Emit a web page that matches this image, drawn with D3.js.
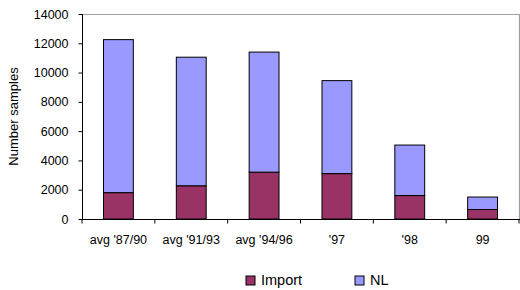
<!DOCTYPE html>
<title>Number samples</title>
<body>
<script src="https://cdn.jsdelivr.net/npm/d3@7"></script>
<style>
  html, body { margin: 0; background: #fff; }
  text { font-family: "Liberation Sans", Arial, sans-serif; }
</style>
<script>
  // values
  var categories = ["avg '87/90", "avg '91/93", "avg '94/96", "'97", "'98", "99"],
    importVals = [1800, 2270, 3200, 3100, 1600, 650],
    nlVals = [10450, 8780, 8200, 6350, 3450, 850],
    yTicks = [0, 2000, 4000, 6000, 8000, 10000, 12000, 14000],
    seriesNames = ["Import", "NL"],
    colors = ["#993366", "#9999ff"];

  // note: "top" is a reserved window prop, so use plot* names
  var width = 520, height = 290,
    plotL = 82, plotR = 519, plotT = 14, plotB = 219;

  var svg = d3.select("body").append("svg")
    .attr("width", width)
    .attr("height", height);

  var x = d3.scaleBand().domain(categories).range([plotL, plotR]).paddingInner(0.59).paddingOuter(0.295);
  var y = d3.scaleLinear().domain([0, 14000]).range([plotB, plotT]);

  // plot frame top + right (gray)
  svg.append("path")
    .attr("d", "M" + plotL + "," + (plotT + 0.5) + "H" + (plotR + 0.5) + "V" + plotB)
    .attr("fill", "none").attr("stroke", "#a0a0a0").attr("stroke-width", 1.2);

  var rows = categories.map(function(c, i) {
    return { cat: c, Import: importVals[i], NL: nlVals[i] };
  });
  var stacked = d3.stack().keys(seriesNames)(rows);

  svg.selectAll("g.series")
    .data(stacked)
    .enter().append("g")
    .attr("fill", function(d, i) { return colors[i]; })
    .selectAll("rect")
    .data(function(d) { return d; })
    .enter().append("rect")
    .attr("x", function(d) { return x(d.data.cat); })
    .attr("width", x.bandwidth())
    .attr("y", function(d) { return y(d[1]); })
    .attr("height", function(d) { return y(d[0]) - y(d[1]); })
    .attr("stroke", "#000").attr("stroke-width", 1);

  // y axis
  var yAxis = svg.append("g")
    .attr("transform", "translate(" + (plotL + 0.5) + ",0)")
    .call(d3.axisLeft(y).tickValues(yTicks).tickSize(4).tickPadding(10).tickFormat(d3.format("d")));
  yAxis.selectAll("text").attr("font-size", 12.5).attr("fill", "#000").attr("font-family", "Liberation Sans, Arial, sans-serif");
  yAxis.selectAll("line, path").attr("stroke", "#000");
  yAxis.select(".domain").attr("d", "M0," + plotB + "V" + plotT);

  // x axis with ticks between categories
  var xAxis = svg.append("g").attr("transform", "translate(0," + (plotB + 0.5) + ")");
  xAxis.append("line").attr("x1", plotL).attr("x2", plotR + 1).attr("stroke", "#000");
  xAxis.selectAll("line.tk")
    .data(d3.range(categories.length + 1))
    .enter().append("line")
    .attr("x1", function(i) { return plotL + i * (plotR - plotL) / categories.length; })
    .attr("x2", function(i) { return plotL + i * (plotR - plotL) / categories.length; })
    .attr("y1", 0).attr("y2", 4).attr("stroke", "#000");
  xAxis.selectAll("text")
    .data(categories)
    .enter().append("text")
    .attr("x", function(d) { return x(d) + x.bandwidth() / 2; })
    .attr("y", 24)
    .attr("text-anchor", "middle")
    .attr("font-size", 12.5)
    .text(function(d) { return d; });

  // y label
  svg.append("text")
    .attr("transform", "translate(18," + ((plotT + plotB) / 2) + ") rotate(-90)")
    .attr("text-anchor", "middle")
    .attr("font-size", 13)
    .text("Number samples");

  // legend
  var legendX = [246, 355];
  var legend = svg.selectAll("g.legend")
    .data(seriesNames)
    .enter().append("g")
    .attr("transform", function(d, i) { return "translate(" + legendX[i] + ",276)"; });
  legend.append("rect")
    .attr("width", 9).attr("height", 9)
    .attr("fill", function(d, i) { return colors[i]; })
    .attr("stroke", "#000");
  legend.append("text")
    .attr("x", 15).attr("y", 8.5)
    .attr("font-size", 14.5)
    .text(function(d) { return d; });
</script>
</body>
